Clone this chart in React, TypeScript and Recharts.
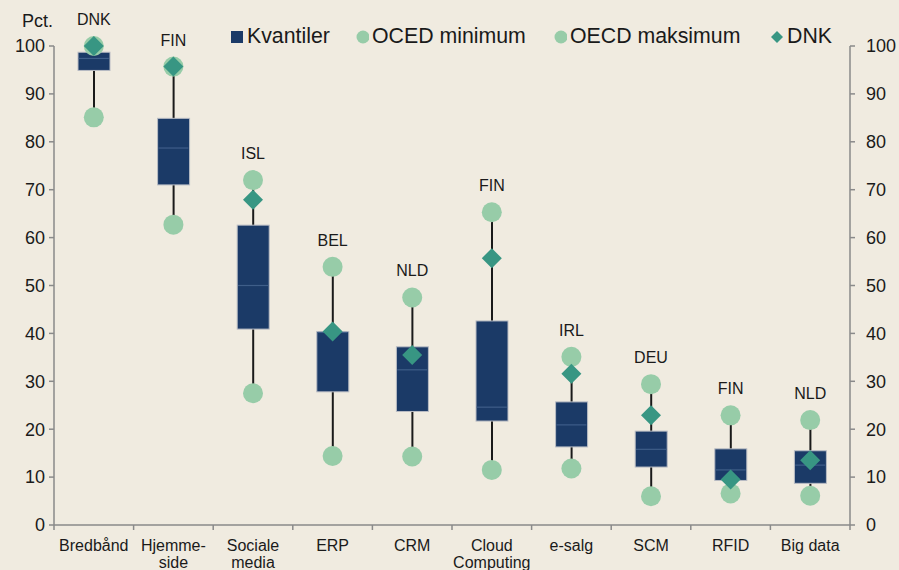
import { ComposedChart, Bar, Scatter, XAxis, YAxis } from 'recharts';

// Technology adoption, share of firms (pct.)
const categories = ['Bredbånd', 'Hjemme-\nside', 'Sociale\nmedia', 'ERP', 'CRM', 'Cloud\nComputing', 'e-salg', 'SCM', 'RFID', 'Big data'];
const quartile1 = [94.9, 71.0, 40.9, 27.8, 23.7, 21.7, 16.3, 12.1, 9.3, 8.7];
const medians = [97.4, 78.7, 50.0, 40.2, 32.4, 24.6, 20.9, 15.8, 11.5, 12.5];
const quartile3 = [98.7, 84.9, 62.6, 40.4, 37.2, 42.6, 25.7, 19.6, 15.9, 15.5];
const oecdMin = [85.1, 62.7, 27.5, 14.4, 14.3, 11.5, 11.8, 6.0, 6.6, 6.1];
const oecdMax = [100.0, 95.7, 72.0, 53.9, 47.5, 65.3, 35.1, 29.4, 22.9, 21.9];
const dnkValues = [100.0, 95.7, 67.9, 40.4, 35.5, 55.7, 31.6, 22.9, 9.5, 13.5];
const leaders = ['DNK', 'FIN', 'ISL', 'BEL', 'NLD', 'FIN', 'IRL', 'DEU', 'FIN', 'NLD'];
const yTicks = [0, 10, 20, 30, 40, 50, 60, 70, 80, 90, 100];

const data = categories.map((name, i) => ({
  name,
  q1: quartile1[i],
  median: medians[i],
  q3: quartile3[i],
  min: oecdMin[i],
  max: oecdMax[i],
  dnk: dnkValues[i],
  leader: leaders[i],
}));

const FONT = '"Liberation Sans", Arial, sans-serif';
const BG = '#F0EBE0';
const NAVY = '#1B3A67';
const MINT = '#97CCA8';
const TEAL = '#389683';
const AXIS = '#8a8a8a';
const TEXT = '#1a1a1a';
const BOX_W = 32;

const CategoryTick = ({ x, y, payload, index, visibleTicksCount }: any) => {
  const lines = String(payload.value).split('\n');
  const half = payload.offset || 0;
  return (
    <g>
      <line x1={x - half} x2={x - half} y1={y} y2={y + 5} stroke={AXIS} strokeWidth={1.5} />
      {index === visibleTicksCount - 1 && (
        <line x1={x + half} x2={x + half} y1={y} y2={y + 5} stroke={AXIS} strokeWidth={1.5} />
      )}
      <text x={x} y={y} textAnchor="middle" fontSize={16} fill={TEXT} fontFamily={FONT}>
        {lines.map((l, i) => (
          <tspan key={i} x={x} dy={i === 0 ? 26 : 17}>{l}</tspan>
        ))}
      </text>
    </g>
  );
};

const Whisker = (p: any) => {
  const cx = p.x + p.width / 2;
  return <line x1={cx} x2={cx} y1={p.y} y2={p.y + p.height} stroke={TEXT} strokeWidth={2} />;
};

const Box = (p: any) => (
  <rect x={p.x} y={p.y} width={p.width} height={p.height} fill={NAVY} stroke="#b9bcc4" strokeWidth={1} />
);

const MedianMark = (p: any) => (
  <line x1={p.cx - BOX_W / 2 + 1} x2={p.cx + BOX_W / 2 - 1} y1={p.cy} y2={p.cy} stroke="#3f5e89" strokeWidth={1.2} />
);

const Dot = (p: any) => <circle cx={p.cx} cy={p.cy} r={10} fill={MINT} />;

const MaxDot = (p: any) => (
  <g>
    <circle cx={p.cx} cy={p.cy} r={10} fill={MINT} />
    <text x={p.cx} y={p.cy - 21} textAnchor="middle" fontSize={16} fill={TEXT} fontFamily={FONT}>
      {p.payload.leader}
    </text>
  </g>
);

const Diamond = (p: any) => (
  <polygon
    points={`${p.cx},${p.cy - 10} ${p.cx + 10},${p.cy} ${p.cx},${p.cy + 10} ${p.cx - 10},${p.cy}`}
    fill={TEAL}
  />
);

const legendItems = [
  { label: 'Kvantiler', kind: 'square', color: NAVY, left: 231 },
  { label: 'OCED minimum', kind: 'circle', color: MINT, left: 356 },
  { label: 'OECD maksimum', kind: 'circle', color: MINT, left: 554 },
  { label: 'DNK', kind: 'diamond', color: TEAL, left: 770 },
];

const LegendRow = () => (
  <>
    {legendItems.map((it) => (
      <div
        key={it.label}
        style={{ position: 'absolute', left: it.left, top: 24, display: 'flex', alignItems: 'center', fontFamily: FONT, fontSize: 21.3, color: TEXT, whiteSpace: 'nowrap' }}
      >
        <svg width={it.kind === 'diamond' ? 14 : 13} height={14} style={{ marginRight: 3 }}>
          {it.kind === 'square' && <rect x={0} y={1} width={12} height={12} fill={it.color} />}
          {it.kind === 'circle' && <circle cx={7} cy={7} r={6.5} fill={it.color} />}
          {it.kind === 'diamond' && <polygon points="7,1 13,7 7,13 1,7" fill={it.color} />}
        </svg>
        <span>{it.label}</span>
      </div>
    ))}
  </>
);

export default function App() {
  return (
    <div style={{ position: 'absolute', left: 0, top: 0, width: 899, height: 570, background: BG, overflow: 'hidden' }}>
      <ComposedChart
        width={899}
        height={570}
        data={data}
        margin={{ top: 46, right: 0, left: 0, bottom: 0 }}
        barSize={BOX_W}
        barGap={-BOX_W}
      >
        <XAxis
          dataKey="name"
          height={45}
          interval={0}
          tickLine={false}
          tickSize={0}
          tickMargin={0}
          axisLine={{ stroke: AXIS, strokeWidth: 1.5 }}
          tick={<CategoryTick />}
        />
        <YAxis
          yAxisId="left"
          width={54}
          domain={[0, 100]}
          ticks={yTicks}
          interval={0}
          tickSize={5}
          tickMargin={4}
          axisLine={{ stroke: AXIS, strokeWidth: 1.5 }}
          tickLine={{ stroke: AXIS, strokeWidth: 1.5 }}
          tick={{ fontSize: 18, fill: TEXT, fontFamily: FONT }}
        />
        <YAxis
          yAxisId="right"
          orientation="right"
          width={49}
          domain={[0, 100]}
          allowDataOverflow
          ticks={yTicks}
          interval={0}
          tickSize={5}
          tickMargin={11}
          axisLine={{ stroke: AXIS, strokeWidth: 1.5 }}
          tickLine={{ stroke: AXIS, strokeWidth: 1.5 }}
          tick={{ fontSize: 18, fill: TEXT, fontFamily: FONT, textAnchor: 'start' }}
        />
        <Bar yAxisId="left" dataKey={(d: any) => [d.min, d.max]} shape={<Whisker />} isAnimationActive={false} />
        <Bar yAxisId="left" dataKey={(d: any) => [d.q1, d.q3]} shape={<Box />} isAnimationActive={false} />
        <Scatter yAxisId="left" dataKey="median" shape={<MedianMark />} isAnimationActive={false} />
        <Scatter yAxisId="left" dataKey="min" shape={<Dot />} isAnimationActive={false} />
        <Scatter yAxisId="left" dataKey="max" shape={<MaxDot />} isAnimationActive={false} />
        <Scatter yAxisId="left" dataKey="dnk" shape={<Diamond />} isAnimationActive={false} />
      </ComposedChart>
      <div style={{ position: 'absolute', left: 22, top: 11, fontFamily: FONT, fontSize: 18, color: TEXT }}>Pct.</div>
      <LegendRow />
    </div>
  );
}
